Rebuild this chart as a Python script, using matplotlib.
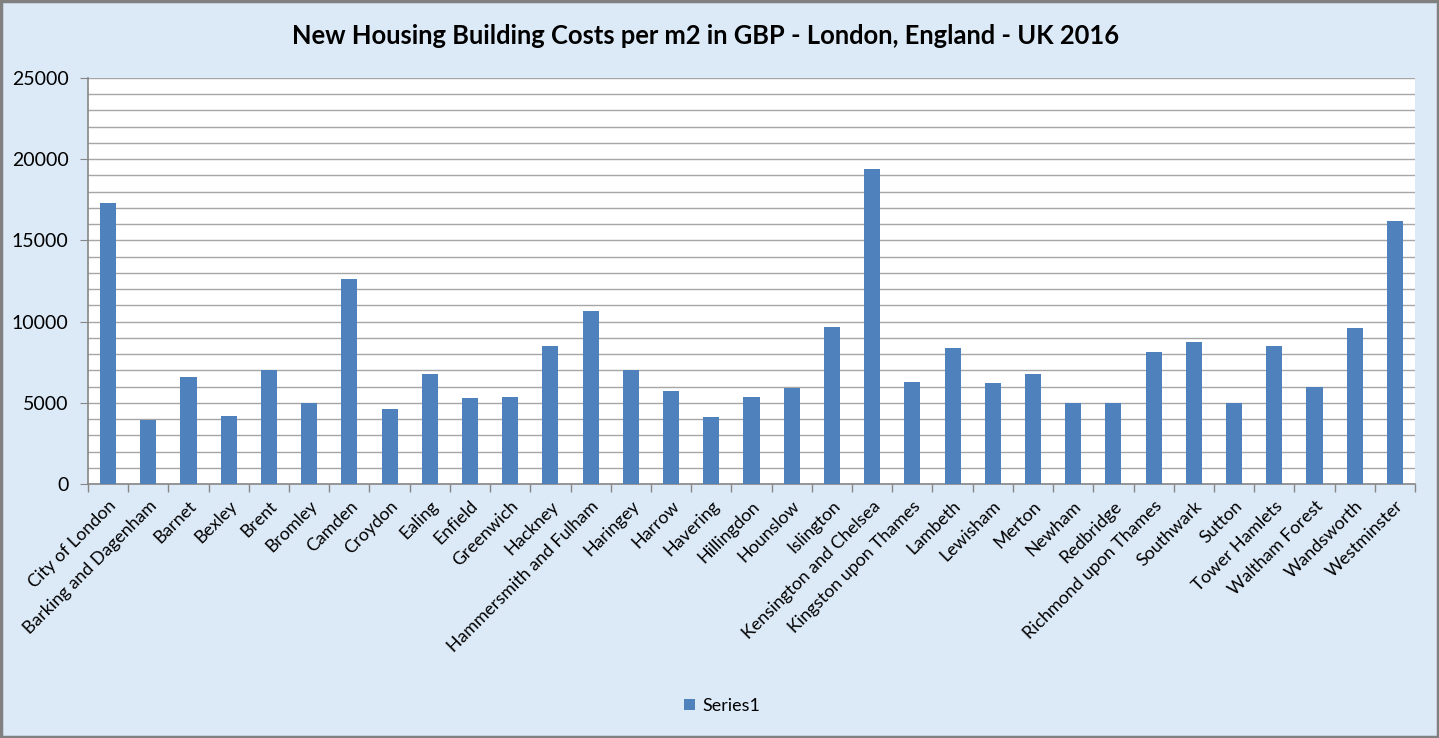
import matplotlib
matplotlib.use("Agg")
import matplotlib.pyplot as plt
import numpy as np
from matplotlib.patches import Rectangle
from matplotlib.ticker import MultipleLocator

# Районы Лондона и стоимость строительства (GBP за м2)
boroughs = [
    "City of London", "Barking and Dagenham", "Barnet", "Bexley", "Brent",
    "Bromley", "Camden", "Croydon", "Ealing", "Enfield", "Greenwich",
    "Hackney", "Hammersmith and Fulham", "Haringey", "Harrow", "Havering",
    "Hillingdon", "Hounslow", "Islington", "Kensington and Chelsea",
    "Kingston upon Thames", "Lambeth", "Lewisham", "Merton", "Newham",
    "Redbridge", "Richmond upon Thames", "Southwark", "Sutton",
    "Tower Hamlets", "Waltham Forest", "Wandsworth", "Westminster",
]
costs = [
    17320, 3960, 6610, 4210, 7040,
    5010, 12640, 4640, 6790, 5320, 5380,
    8520, 10670, 7040, 5750, 4150,
    5380, 5930, 9690, 19420,
    6300, 8390, 6240, 6790, 4970,
    4970, 8150, 8760, 5010,
    8520, 5990, 9630, 16220,
]
series_name = "Series1"
title = "New Housing Building Costs per m2 in GBP - London, England - UK 2016"

BAR_COLOR = "#4f81bd"
GRID_COLOR = "#a6a6a6"
BG_COLOR = "#dce9f7"

plt.rcParams['font.family'] = ['Lato', 'DejaVu Sans']

fig = plt.figure(figsize=(14.39, 7.38), dpi=100, facecolor=BG_COLOR)

# Рамка вокруг всей диаграммы
fig.patches.append(Rectangle((0.0007, 0.0014), 0.9986, 0.9972, transform=fig.transFigure,
                             fill=False, edgecolor="#808080", linewidth=2.5))

ax = fig.add_axes([88 / 1439, 1 - 484 / 738, (1415 - 88) / 1439, (484 - 78) / 738])
ax.set_facecolor("white")

x = np.arange(len(boroughs))
ax.bar(x, costs, width=0.4, color=BAR_COLOR, zorder=3, label=series_name)

ax.set_xlim(-0.5, len(boroughs) - 0.5)
ax.set_ylim(0, 25000)
ax.yaxis.set_major_locator(MultipleLocator(5000))
ax.yaxis.set_minor_locator(MultipleLocator(1000))
ax.grid(True, which="both", axis="y", color=GRID_COLOR, linewidth=1.0, zorder=0)

# Метки категорий, засечки между категориями
ax.set_xticks(x)
ax.set_xticklabels(boroughs, rotation=45, ha="right", rotation_mode="anchor", fontsize=12.8)
ax.tick_params(axis="x", which="major", length=0, pad=10)
ax.set_xticks(np.arange(-0.5, len(boroughs)), minor=True)
ax.tick_params(axis="x", which="minor", length=6, color="#868686", width=1)
ax.tick_params(axis="y", which="major", length=6, color="#868686", labelsize=14, pad=8)
ax.tick_params(axis="y", which="minor", length=0)

for side in ["top", "right"]:
    ax.spines[side].set_visible(False)
for side in ["left", "bottom"]:
    ax.spines[side].set_color("#868686")
    ax.spines[side].set_linewidth(1.2)

fig.text(706 / 1439, 1 - 36 / 738, title, ha="center", va="center",
         fontsize=18.4, fontweight="bold")

fig.legend(loc="center", bbox_to_anchor=(722 / 1439, 1 - 706 / 738), frameon=False,
           fontsize=12.9, handlelength=0.6, handleheight=0.6, handletextpad=0.4)

fig.savefig("out.png", dpi=100, facecolor=BG_COLOR)
